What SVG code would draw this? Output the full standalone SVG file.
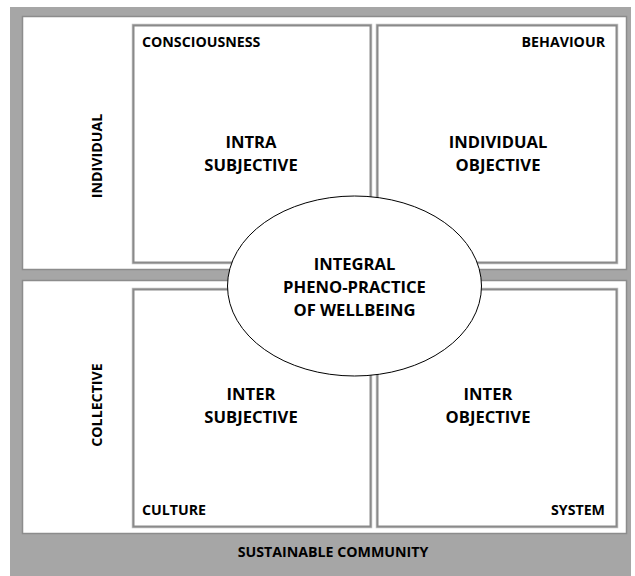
<svg xmlns="http://www.w3.org/2000/svg" width="635" height="576" viewBox="0 0 635 576">
<style>
.panel{fill:#fff;stroke:#8c8c8c;stroke-width:1.5}
.box{fill:#fff;stroke:#8a8a8a;stroke-width:2}
.boxhalo{fill:none;stroke:#c0c0c0;stroke-width:3.5}
.t{font-family:"Open Sans","Noto Sans",sans-serif;font-weight:bold;fill:#000}
.big{font-size:16.6px;text-anchor:middle}
.small{font-size:14.2px}
</style>
<rect id="background" x="10" y="7" width="621" height="569" fill="#a6a6a6"/>
<g id="panel-individual">
<rect class="panel" x="22.5" y="16.5" width="604" height="253"/>
<text class="t small" transform="translate(102,156) rotate(-90)" text-anchor="middle">INDIVIDUAL</text>
</g>
<g id="panel-collective">
<rect class="panel" x="22.5" y="280.5" width="604" height="253"/>
<text class="t small" transform="translate(102,405) rotate(-90)" text-anchor="middle">COLLECTIVE</text>
</g>
<g id="intra-subjective">
<rect class="boxhalo" x="133.5" y="25.5" width="237" height="237"/>
<rect class="box" x="133.5" y="25.5" width="237" height="237"/>
<text class="t small" x="142" y="47">CONSCIOUSNESS</text>
<text class="t big" x="251" y="148">INTRA</text>
<text class="t big" x="251" y="171">SUBJECTIVE</text>
</g>
<g id="individual-objective">
<rect class="boxhalo" x="377.5" y="25.5" width="239" height="237"/>
<rect class="box" x="377.5" y="25.5" width="239" height="237"/>
<text class="t small" x="605" y="47" text-anchor="end">BEHAVIOUR</text>
<text class="t big" x="498" y="148">INDIVIDUAL</text>
<text class="t big" x="498" y="171">OBJECTIVE</text>
</g>
<g id="inter-subjective">
<rect class="boxhalo" x="133.5" y="289.5" width="237" height="237"/>
<rect class="box" x="133.5" y="289.5" width="237" height="237"/>
<text class="t small" x="142" y="515">CULTURE</text>
<text class="t big" x="251" y="400">INTER</text>
<text class="t big" x="251" y="423">SUBJECTIVE</text>
</g>
<g id="inter-objective">
<rect class="boxhalo" x="377.5" y="289.5" width="239" height="237"/>
<rect class="box" x="377.5" y="289.5" width="239" height="237"/>
<text class="t small" x="605" y="515" text-anchor="end">SYSTEM</text>
<text class="t big" x="488" y="400">INTER</text>
<text class="t big" x="488" y="423">OBJECTIVE</text>
</g>
<g id="integral">
<ellipse cx="354.5" cy="286" rx="127" ry="90" fill="#fff" stroke="#000" stroke-width="1"/>
<text class="t big" x="354.5" y="270">INTEGRAL</text>
<text class="t big" x="354.5" y="293">PHENO-PRACTICE</text>
<text class="t big" x="354.5" y="316">OF WELLBEING</text>
</g>
<g id="community">
<text class="t small" x="333" y="557" text-anchor="middle">SUSTAINABLE COMMUNITY</text>
</g>
<g id="connectors"></g>
</svg>
